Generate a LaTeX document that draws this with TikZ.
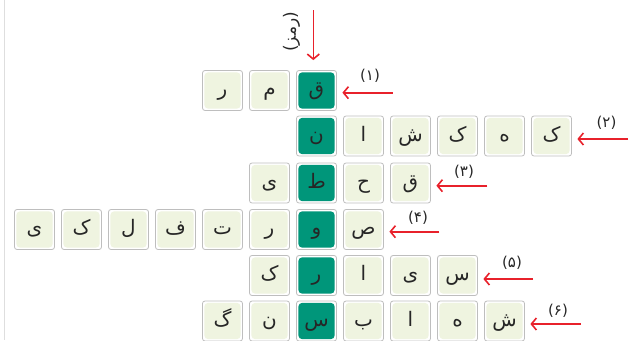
\documentclass[tikz,border=0pt]{standalone}
\usepackage{fontspec}
\usepackage{tikz}
\usetikzlibrary{arrows.meta}
\newfontfamily\arabicfont[Script=Arabic]{DejaVu Sans}
\TeXXeTstate=1
\definecolor{cellgreen}{HTML}{EFF4E0}
\definecolor{keyteal}{HTML}{00967A}
\definecolor{cellline}{HTML}{BEBEBE}
\definecolor{arrowred}{HTML}{E8212B}

\begin{document}
\begin{tikzpicture}[x=1pt,y=-1pt,
						cellbase/.style={rectangle, draw=cellline, line width=0.8pt, fill=white, rounded corners=2.5pt, minimum size=40pt, inner sep=0pt, text height=13pt, text depth=3pt, font=\arabicfont\fontsize{20}{24}\selectfont, text=black!85},
						cellnode/.style={cellbase, path picture={\fill[cellgreen, rounded corners=4pt] ([shift={(1.8pt,-1.8pt)}]path picture bounding box.north west) rectangle ([shift={(-1.8pt,1.8pt)}]path picture bounding box.south east);}},
						keynode/.style={cellbase, path picture={\fill[keyteal, rounded corners=4pt] ([shift={(1.8pt,-1.8pt)}]path picture bounding box.north west) rectangle ([shift={(-1.8pt,1.8pt)}]path picture bounding box.south east);}},
						numnode/.style={font=\arabicfont\fontsize{15}{18}\selectfont, text=black!85, inner sep=0pt},
						redarrow/.style={draw=arrowred, line width=1.6pt, shorten >=5.5pt, -{Straight Barb[length=5pt,width=12pt]}},
						]
						\useasboundingbox (0,0) rectangle (639,340);
						\draw[line width=1.5pt, black!13] (4.5,0) -- (4.5,340);
						%Nodes
						\node[keynode]   (c1a) at (316.5,90.5)  {\beginR ق\endR};
						\node[cellnode]  (c1b) at (269.5,90.5)  {\beginR م\endR};
						\node[cellnode]  (c1c) at (222.5,90.5)  {\beginR ر\endR};

						\node[keynode]   (c2a) at (316.5,136)   {\beginR ن\endR};
						\node[cellnode]  (c2b) at (363.5,136)   {\beginR ا\endR};
						\node[cellnode]  (c2c) at (410.5,136)   {\beginR ش\endR};
						\node[cellnode]  (c2d) at (457.5,136)   {\beginR ک\endR};
						\node[cellnode]  (c2e) at (504.5,136)   {\beginR ه\endR};
						\node[cellnode]  (c2f) at (551.5,136)   {\beginR ک\endR};

						\node[keynode]   (c3a) at (316.5,183)   {\beginR ط\endR};
						\node[cellnode]  (c3b) at (269.5,183)   {\beginR ی\endR};
						\node[cellnode]  (c3c) at (363.5,183)   {\beginR ح\endR};
						\node[cellnode]  (c3d) at (410.5,183)   {\beginR ق\endR};

						\node[keynode]   (c4a) at (316.5,229.5) {\beginR و\endR};
						\node[cellnode]  (c4b) at (363.5,229.5) {\beginR ص\endR};
						\node[cellnode]  (c4c) at (269.5,229.5) {\beginR ر\endR};
						\node[cellnode]  (c4d) at (222.5,229.5) {\beginR ت\endR};
						\node[cellnode]  (c4e) at (175.5,229.5) {\beginR ف\endR};
						\node[cellnode]  (c4f) at (128.5,229.5) {\beginR ل\endR};
						\node[cellnode]  (c4g) at (81.5,229.5)  {\beginR ک\endR};
						\node[cellnode]  (c4h) at (34.5,229.5)  {\beginR ی\endR};

						\node[keynode]   (c5a) at (316.5,275.5) {\beginR ر\endR};
						\node[cellnode]  (c5b) at (269.5,275.5) {\beginR ک\endR};
						\node[cellnode]  (c5c) at (363.5,275.5) {\beginR ا\endR};
						\node[cellnode]  (c5d) at (410.5,275.5) {\beginR ی\endR};
						\node[cellnode]  (c5e) at (457.5,275.5) {\beginR س\endR};

						\node[keynode]   (c6a) at (316.5,321)   {\beginR س\endR};
						\node[cellnode]  (c6b) at (269.5,321)   {\beginR ن\endR};
						\node[cellnode]  (c6c) at (222.5,321)   {\beginR گ\endR};
						\node[cellnode]  (c6d) at (363.5,321)   {\beginR ب\endR};
						\node[cellnode]  (c6e) at (410.5,321)   {\beginR ا\endR};
						\node[cellnode]  (c6f) at (457.5,321)   {\beginR ه\endR};
						\node[cellnode]  (c6g) at (504.5,321)   {\beginR ش\endR};

						%Labels
						\node[numnode, rotate=90, font=\arabicfont\fontsize{17}{20}\selectfont] (keylabel) at (291.5,32) {\beginR(رمز)\endR};
						\node[numnode]   (l1) at (370,76)       {\beginR(۱)\endR};
						\node[numnode]   (l2) at (606.5,123)    {\beginR(۲)\endR};
						\node[numnode]   (l3) at (464,171.5)    {\beginR(۳)\endR};
						\node[numnode]   (l4) at (418,218)      {\beginR(۴)\endR};
						\node[numnode]   (l5) at (512,263)      {\beginR(۵)\endR};
						\node[numnode]   (l6) at (558,310.5)    {\beginR(۶)\endR};

						\coordinate (keytop) at (313.3,10);
						\coordinate (a1) at (392.7,92.7);
						\coordinate (a2) at (628,139);
						\coordinate (a3) at (487.3,185.7);
						\coordinate (a4) at (439.3,231.7);
						\coordinate (a5) at (533,279);
						\coordinate (a6) at (580.7,324);

						%Lines
						\draw[redarrow, shorten >=10pt] (keytop) -- (keytop |- c1a.north);
						\draw[redarrow] (a1) -- (a1 -| c1a.east);
						\draw[redarrow] (a2) -- (a2 -| c2f.east);
						\draw[redarrow] (a3) -- (a3 -| c3d.east);
						\draw[redarrow] (a4) -- (a4 -| c4b.east);
						\draw[redarrow] (a5) -- (a5 -| c5e.east);
						\draw[redarrow] (a6) -- (a6 -| c6g.east);
					\end{tikzpicture}
\end{document}
